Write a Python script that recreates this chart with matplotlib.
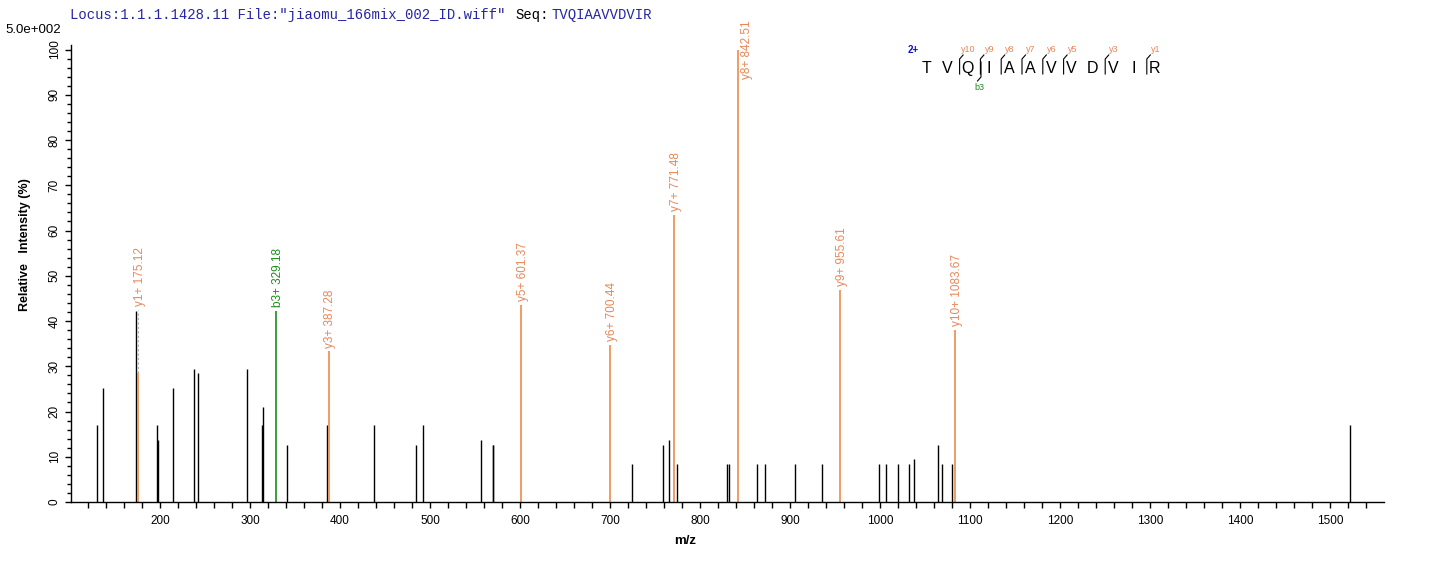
import numpy as np
import matplotlib
matplotlib.use("Agg")
import matplotlib.pyplot as plt
from matplotlib.lines import Line2D

# unassigned peaks (m/z, relative intensity %)
peak_mz = [130.3, 137.0, 172.8, 197.0, 198.2, 214.8, 238.1, 242.6, 297.0, 313.0,
           314.8, 341.5, 386.0, 438.0, 484.8, 492.6, 557.0, 569.4, 570.2, 724.8,
           759.3, 766.0, 774.8, 830.4, 832.2, 863.7, 872.6, 905.9, 935.9, 999.3,
           1007.0, 1020.4, 1032.6, 1038.1, 1064.8, 1069.2, 1080.4, 1522.0]
peak_int = [17.0, 25.2, 42.2, 17.0, 13.7, 25.2, 29.5, 28.6, 29.5, 17.0,
            21.0, 12.7, 17.0, 17.0, 12.7, 17.0, 13.7, 12.7, 12.7, 8.4,
            12.7, 13.7, 8.4, 8.4, 8.4, 8.4, 8.4, 8.4, 8.4, 8.4,
            8.4, 8.4, 8.4, 9.5, 12.7, 8.4, 8.4, 17.0]

# matched fragment ions
ion_names = ["y1+", "b3+", "y3+", "y5+", "y6+", "y7+", "y8+", "y9+", "y10+"]
ion_mz = [175.12, 329.18, 387.28, 601.37, 700.44, 771.48, 842.51, 955.61, 1083.67]
ion_int = [28.5, 42.2, 33.3, 43.6, 34.7, 63.5, 100.0, 46.9, 38.0]
ion_label_at = [42.5, 42.2, 33.3, 43.6, 34.7, 63.5, 100.0, 46.9, 38.0]

sequence = "TVQIAAVVDVIR"
y_ions = [10, 9, 8, 7, 6, 5, 3, 1]
b_ions = [3]

ORANGE = "#EE8A48"
ORANGE_TXT = "#E6875A"
GREEN = "#1E8A1E"
BLUE = "#2525A5"

W, H = 1436, 562
fig = plt.figure(figsize=(W / 100, H / 100), dpi=100)
ax = fig.add_axes([71 / W, 1 - 502 / H, (1384 - 71) / W, (502 - 45) / H])

ax.vlines(peak_mz, 0, peak_int, color="black", linewidth=1.0)
for name, mz, inten, lab in zip(ion_names, ion_mz, ion_int, ion_label_at):
    col = GREEN if name.startswith("b") else ORANGE
    tcol = GREEN if name.startswith("b") else ORANGE_TXT
    ax.vlines(mz, 0, inten, color=col, linewidth=1.2)
    if lab > inten:
        ax.vlines(mz, inten, lab, color="#B0B0B0", linewidth=0.8, linestyles=(0, (2, 2)))
    label = f"{name} {mz:.2f}"
    if lab > 90:
        # no room above the base peak: put the label beside the line
        ax.text(mz + 10, lab, label, rotation=90, ha="center", va="center",
                color=tcol, fontsize=8.5, family="Liberation Sans", clip_on=False)
    else:
        ax.text(mz + 2, lab + 0.8, label, rotation=90, ha="center", va="bottom",
                color=tcol, fontsize=8.5, family="Liberation Sans")

ax.set_xlim(101, 1560)
ax.set_ylim(0, 101)
ax.set_xticks(np.arange(200, 1501, 100))
ax.set_xticks(np.arange(120, 1560, 20), minor=True)
ax.set_yticks(np.arange(0, 101, 10))
ax.set_yticks(np.arange(0, 101, 2), minor=True)
for s in ["top", "right"]:
    ax.spines[s].set_visible(False)
for s in ["left", "bottom"]:
    ax.spines[s].set_linewidth(1.0)
ax.tick_params(axis="x", which="major", direction="out", length=4.5, width=1, labelsize=8.5, pad=5)
ax.tick_params(axis="x", which="minor", direction="out", length=4, width=1)
ax.tick_params(axis="y", which="major", direction="out", length=4.5, width=1, labelsize=8.5, pad=3)
ax.tick_params(axis="y", which="minor", direction="out", length=3, width=1)
for t in ax.get_yticklabels():
    t.set_rotation(90)
    t.set_va("center")
for t in ax.get_xticklabels() + ax.get_yticklabels():
    t.set_family("Liberation Sans")

fig.text(685 / W, 1 - 541 / H, "m/z", ha="center", va="center", fontsize=9.5,
         fontweight="bold", family="Liberation Sans")
fig.text(25 / W, 1 - 245 / H, "Relative   Intensity (%)", rotation=90, ha="center",
         va="center", fontsize=9, fontweight="bold", family="Liberation Sans")

# header
fig.text(70 / W, 1 - 15 / H, 'Locus:1.1.1.1428.11 File:"jiaomu_166mix_002_ID.wiff"',
         ha="left", va="center", fontsize=10, color=BLUE, family="Liberation Mono")
fig.text(515 / W, 1 - 15 / H, "Seq:", ha="left", va="center", fontsize=10,
         color="black", family="Liberation Mono")
fig.text(551 / W, 1 - 15 / H, sequence, ha="left", va="center", fontsize=10,
         color=BLUE, family="Liberation Mono")
fig.text(5 / W, 1 - 30 / H, "5.0e+002", ha="left", va="center", fontsize=9.5,
         family="Liberation Sans")

# sequence coverage map
def fx(x):
    return x / W

def fy(y):
    return 1 - y / H

x0, step = 926, 20.8
letter_x = [x0 + i * step for i in range(len(sequence))]
for lx, aa in zip(letter_x, sequence):
    fig.text(fx(lx), fy(68), aa, ha="center", va="center", fontsize=11.5,
             family="Liberation Sans")
fig.text(fx(913), fy(50), "2+", ha="center", va="center", fontsize=7, color="#1010C0",
         fontweight="bold", family="Liberation Sans")
n = len(sequence)
for k in y_ions:
    i = n - k
    bx = letter_x[i] - 8
    fig.add_artist(Line2D([fx(bx), fx(bx), fx(bx + 3.5)], [fy(74), fy(59), fy(55)],
                          color="black", linewidth=0.8))
    fig.text(fx(letter_x[i] + 1), fy(50), f"y{k}", ha="center", va="center", fontsize=6.5,
             color=ORANGE_TXT, family="Liberation Sans")
for k in b_ions:
    bx = (letter_x[k - 1] + letter_x[k]) / 2 + 3
    fig.add_artist(Line2D([fx(bx), fx(bx), fx(bx - 3.5)], [fy(62), fy(77), fy(81)],
                          color="black", linewidth=0.8))
    fig.text(fx(bx - 2), fy(87), f"b{k}", ha="center", va="center", fontsize=6.5,
             color=GREEN, family="Liberation Sans")

fig.savefig("out.png", dpi=100)
